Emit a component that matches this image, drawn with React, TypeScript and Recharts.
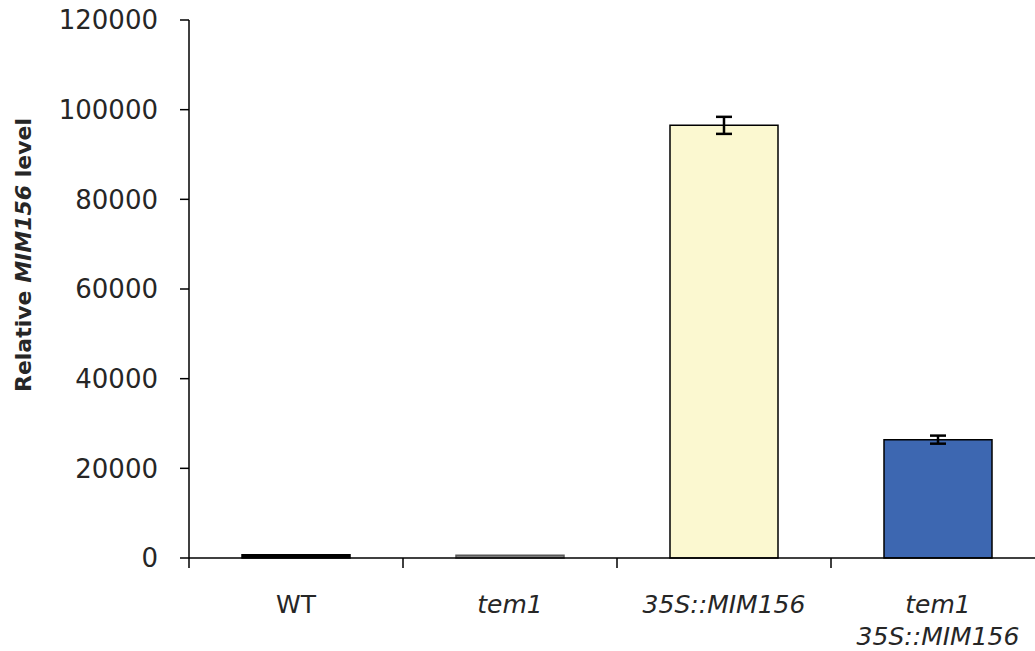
import { Bar, BarChart, Cell, ErrorBar, XAxis, YAxis } from "recharts";

const categories = ["WT", "tem1", "35S::MIM156", "tem1 35S::MIM156"];
const categoryLines = [["WT"], ["tem1"], ["35S::MIM156"], ["tem1", "35S::MIM156"]];
const categoryItalic = [false, true, true, true];
const levels = [700, 600, 96500, 26400];
const levelErrors = [0, 0, 1900, 900];
const yTicks = [0, 20000, 40000, 60000, 80000, 100000, 120000];

const barFills = ["#000000", "#7f7f7f", "#fbf8d0", "#3d67b1"];
const barStrokes = ["#000000", "#595959", "#000000", "#000000"];

const data = categories.map((name, i) => ({
  name,
  level: levels[i],
  err: levelErrors[i],
}));

const FONT = "'DejaVu Sans', sans-serif";
const TEXT = "#262626";

function CategoryTick(props: any) {
  const { x, y, payload } = props;
  const half = payload?.offset ?? 107;
  const idx = payload?.index ?? 0;
  const lines = categoryLines[idx] ?? [String(payload?.value)];
  return (
    <g>
      <line x1={x - half} x2={x - half} y1={y} y2={y + 10} stroke="#000" strokeWidth={1.5} />
      <text
        x={x}
        y={y + 55}
        textAnchor="middle"
        fontFamily={FONT}
        fontSize={25}
        fontStyle={categoryItalic[idx] ? "italic" : "normal"}
        fill={TEXT}
      >
        {lines.map((line, k) => (
          <tspan key={k} x={x} dy={k === 0 ? 0 : 32}>
            {line}
          </tspan>
        ))}
      </text>
    </g>
  );
}

export default function App() {
  return (
    <div
      style={{
        position: "absolute",
        left: 0,
        top: 0,
        width: 1035,
        height: 651,
        overflow: "hidden",
        background: "#fff",
      }}
    >
      <BarChart
        width={1060}
        height={651}
        data={data}
        margin={{ top: 20, right: 15, bottom: 0, left: 0 }}
        barSize={108}
      >
        <XAxis
          dataKey="name"
          height={93}
          axisLine={{ stroke: "#000", strokeWidth: 1.5 }}
          tickLine={false}
          tickSize={0}
          tickMargin={0}
          interval={0}
          tick={<CategoryTick />}
        />
        <YAxis
          width={189}
          domain={[0, 120000]}
          ticks={yTicks}
          interval={0}
          axisLine={{ stroke: "#000", strokeWidth: 1.5 }}
          tickLine={{ stroke: "#000", strokeWidth: 1.5 }}
          tickSize={9}
          tickMargin={22}
          tick={{ fill: TEXT, fontSize: 26, fontFamily: FONT }}
          label={{
            content: () => (
              <text
                x={0}
                y={0}
                transform="translate(31, 255) rotate(-90)"
                textAnchor="middle"
                fontFamily={FONT}
                fontSize={22}
                fontWeight="bold"
                fill={TEXT}
              >
                Relative <tspan fontStyle="italic">MIM156</tspan> level
              </text>
            ),
          }}
        />
        <Bar dataKey="level" strokeWidth={1.5} isAnimationActive={false}>
          {data.map((d, i) => (
            <Cell key={d.name} fill={barFills[i]} stroke={barStrokes[i]} />
          ))}
          <ErrorBar dataKey="err" width={8} stroke="#000" strokeWidth={2.5} />
        </Bar>
      </BarChart>
    </div>
  );
}
